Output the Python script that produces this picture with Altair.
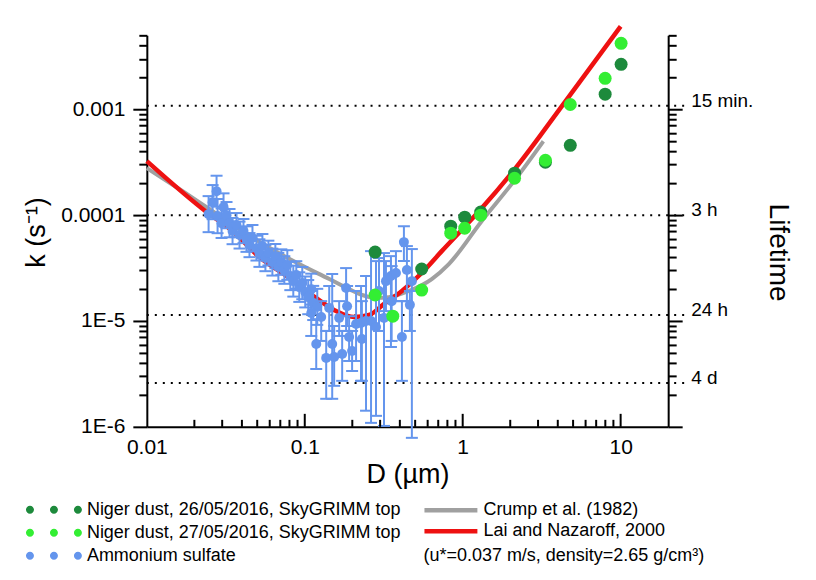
import altair as alt
import pandas as pd

W, H = 522, 392
FONT = "Liberation Sans, Arial, Helvetica, sans-serif"

S1 = "Niger dust, 26/05/2016, SkyGRIMM top"
S2 = "Niger dust, 27/05/2016, SkyGRIMM top"
S3 = "Ammonium sulfate"
L1 = "Crump et al. (1982)"
L2 = "Lai and Nazaroff, 2000"
NOTE = "(u*=0.037 m/s, density=2.65 g/cm³)"

# Ammonium sulfate, dense part (D in um, k in 1/s, error factor)
band_D = [0.02461, 0.02609, 0.02764, 0.02805, 0.02973, 0.03060, 0.03196, 0.03340, 0.03489, 0.03697,
          0.03863, 0.04093, 0.04274, 0.04466, 0.04665, 0.04943, 0.05163, 0.05394, 0.05634, 0.05885,
          0.06237, 0.06514, 0.06805, 0.07108, 0.07424, 0.07755, 0.08100, 0.08461, 0.08839, 0.09232,
          0.09643, 0.1007, 0.1052, 0.1099, 0.1131, 0.1200]
band_k = [1.022e-4, 1.327e-4, 1.684e-4, 9.79e-5, 8.40e-5, 1.190e-4, 1.0e-4, 8.40e-5, 7.07e-5, 8.05e-5,
          6.48e-5, 7.07e-5, 5.94e-5, 5.21e-5, 6.07e-5, 4.88e-5, 4.38e-5, 5.10e-5, 3.93e-5, 4.38e-5,
          3.60e-5, 4.10e-5, 3.23e-5, 3.60e-5, 3.03e-5, 3.38e-5, 2.66e-5, 2.38e-5, 2.72e-5, 2.09e-5,
          2.28e-5, 1.88e-5, 1.68e-5, 2.00e-5, 1.48e-5, 1.36e-5]
band_f = [1.48, 1.45, 1.40, 1.45, 1.38, 1.35, 1.33, 1.36, 1.33, 1.30,
          1.34, 1.30, 1.32, 1.30, 1.33, 1.31, 1.35, 1.30, 1.33, 1.31,
          1.34, 1.30, 1.36, 1.32, 1.35, 1.38, 1.36, 1.40, 1.35, 1.38,
          1.42, 1.40, 1.45, 1.40, 1.45, 1.48]

# Ammonium sulfate, scattered part (D, k, upper, lower)
tail_D = [0.1099, 0.1182, 0.1271, 0.1367, 0.1428, 0.1492, 0.1535, 0.1651, 0.1725, 0.1827,
          0.1854, 0.1909, 0.1994, 0.2113, 0.2272, 0.2300, 0.2443, 0.2628, 0.2825, 0.2951,
          0.3174, 0.3267, 0.3513, 0.3550, 0.3778, 0.4122, 0.4244, 0.4433, 0.4630, 0.4766]
tail_k = [1.19e-5, 6.07e-6, 1.09e-5, 4.48e-6, 1.33e-5, 6.07e-6, 4.57e-6, 1.07e-5, 4.88e-6, 2.05e-5,
          1.38e-5, 7.06e-6, 5.21e-6, 9.37e-6, 9.57e-6, 6.76e-6, 1.0e-5, 1.0e-5, 8.78e-6, 1.92e-5,
          1.07e-5, 2.38e-5, 2.66e-5, 1.54e-5, 2.84e-5, 7.06e-6, 5.56e-5, 3.03e-5, 1.42e-5, 2.38e-5]
tail_hi = [1.92e-5, 1.04e-5, 1.54e-5, 8.05e-6, 2.14e-5, 2.78e-5, 8.97e-6, 1.54e-5, 8.05e-6, 3.16e-5,
           2.14e-5, 1.11e-5, 8.05e-6, 1.92e-5, 2.14e-5, 1.54e-5, 2.66e-5, 4.57e-5, 3.68e-5, 3.93e-5,
           4.38e-5, 3.68e-5, 4.10e-5, 3.30e-5, 4.57e-5, 1.54e-5, 7.87e-5, 5.10e-5, 1.92e-5, 4.78e-5]
tail_lo = [7.22e-6, 3.52e-6, 6.48e-6, 1.84e-6, 8.05e-6, 1.84e-6, 2.44e-6, 7.22e-6, 2.72e-6, 8.05e-6,
           8.97e-6, 4.19e-6, 3.37e-6, 4.19e-6, 2.72e-6, 2.72e-6, 1.42e-6, 1.09e-6, 1.27e-6, 8.05e-6,
           1.02e-6, 1.24e-5, 5.68e-6, 6.48e-6, 1.54e-5, 2.72e-6, 3.68e-5, 1.54e-5, 8.05e-6, 7.87e-7]

ng26_D = [0.279, 0.55, 0.84, 1.03, 1.30, 2.13, 3.34, 4.80, 7.98, 10.07]
ng26_k = [4.48e-5, 3.10e-5, 7.87e-5, 9.57e-5, 1.07e-4, 2.49e-4, 3.16e-4, 4.57e-4, 1.39e-3, 2.66e-3]
ng27_D = [0.279, 0.361, 0.55, 0.84, 1.03, 1.30, 2.13, 3.34, 4.80, 7.98, 10.07]
ng27_k = [1.76e-5, 1.11e-5, 1.96e-5, 6.76e-5, 7.53e-5, 1.0e-4, 2.23e-4, 3.30e-4, 1.11e-3, 1.96e-3, 4.20e-3]

crump_D = [0.01, 0.01687, 0.0239, 0.0386, 0.0571, 0.0922, 0.143, 0.191, 0.231, 0.282, 0.341,
           0.456, 0.637, 0.817, 1.318, 2.16, 3.24]
crump_k = [2.78e-4, 1.68e-4, 1.19e-4, 7.38e-5, 5.10e-5, 3.45e-5, 2.49e-5, 2.0e-5, 1.76e-5, 1.65e-5,
           1.68e-5, 1.92e-5, 2.49e-5, 3.45e-5, 8.77e-5, 2.19e-4, 4.99e-4]
lai_D = [0.01, 0.0239, 0.0349, 0.0516, 0.0798, 0.118, 0.158, 0.205, 0.255, 0.318, 0.412, 0.55,
         0.737, 1.318, 2.16, 4.47, 10.0]
lai_k = [3.24e-4, 1.07e-4, 7.06e-5, 4.02e-5, 2.55e-5, 1.65e-5, 1.24e-5, 1.09e-5, 1.14e-5, 1.45e-5,
         1.92e-5, 2.84e-5, 4.57e-5, 1.16e-4, 2.78e-4, 1.19e-3, 6.07e-3]

life_k = [1.08e-3, 1.0e-4, 1.14e-5, 2.6e-6]
life_lab = ["15 min.", "3 h", "24 h", "4 d"]

x_major = [0.1, 1, 10]
x_minor = [0.02, 0.03, 0.04, 0.05, 0.06, 0.07, 0.08, 0.09,
           0.2, 0.3, 0.4, 0.5, 0.6, 0.7, 0.8, 0.9,
           2, 3, 4, 5, 6, 7, 8, 9]
y_ticks = [float(f"{m}e{e}") for e in range(-6, -2) for m in range(1, 10)]
y_ticks = [v for v in y_ticks if v <= 5e-3]

C_DG, C_LG, C_BL = "#1d8a3c", "#33ee33", "#6495ed"
C_GR, C_RD = "#a0a0a0", "#ee1111"

# ---- data frames
blue = pd.DataFrame({
    "D": band_D + tail_D,
    "k": band_k + tail_k,
    "hi": [k * f for k, f in zip(band_k, band_f)] + tail_hi,
    "lo": [k / f for k, f in zip(band_k, band_f)] + tail_lo,
    "series": S3,
})
dg = pd.DataFrame({"D": ng26_D, "k": ng26_k, "series": S1})
lg = pd.DataFrame({"D": ng27_D, "k": ng27_k, "series": S2})
crump = pd.DataFrame({"D": crump_D, "k": crump_k, "series": L1})
lai = pd.DataFrame({"D": lai_D, "k": lai_k, "series": L2})
life = pd.DataFrame({"k": life_k, "label": life_lab})
xmaj = pd.DataFrame({"D": x_major})
xmin = pd.DataFrame({"D": x_minor})

# ---- scales / axes
xs = alt.Scale(type="log", domain=[0.01, 20], nice=False)
ys = alt.Scale(type="log", domain=[1e-6, 5e-3], nice=False)

MAJ = "datum.value == 1e-6 || datum.value == 1e-5 || datum.value == 1e-4 || datum.value == 1e-3"
tick_cond = {"condition": {"test": MAJ, "value": 14}, "value": 8}

xaxis = alt.Axis(values=[0.01, 0.1, 1, 10],
                 labelExpr="datum.value == 0.01 ? '0.01' : datum.value == 0.1 ? '0.1' : datum.value == 1 ? '1' : '10'",
                 ticks=False, tickSize=0, labelPadding=10, labelFlush=False, labelOverlap=False,
                 labelFont=FONT, labelFontSize=21, labelColor="black",
                 domainColor="black", domainWidth=2, grid=False,
                 title="D (µm)", titleFont=FONT, titleFontSize=27, titleFontWeight="normal",
                 titleColor="black", titleX=W / 2, titleY=48, titleBaseline="middle", titleAlign="center")

yaxis_left = alt.Axis(orient="left", values=y_ticks,
                      labelExpr="datum.value == 1e-3 ? '0.001' : datum.value == 1e-4 ? '0.0001' : datum.value == 1e-5 ? '1E-5' : datum.value == 1e-6 ? '1E-6' : ''",
                      tickSize=tick_cond, tickWidth=2, tickColor="black",
                      domainColor="black", domainWidth=2, grid=False,
                      labelFont=FONT, labelFontSize=21, labelColor="black", labelPadding=8,
                      labelOverlap=False, labelFlush=False,
                      title="k (s⁻¹)", titleFont=FONT, titleFontSize=27, titleFontWeight="normal",
                      titleColor="black", titleX=-110, titleY=197, titleAngle=270,
                      titleBaseline="middle", titleAlign="center")

yaxis_right = alt.Axis(orient="right", values=y_ticks, labels=False,
                       tickSize=tick_cond, tickWidth=2, tickColor="black",
                       domainColor="black", domainWidth=2, grid=False,
                       title="Lifetime", titleFont=FONT, titleFontSize=28, titleFontWeight="normal",
                       titleColor="black", titleX=109, titleY=217, titleAngle=90,
                       titleBaseline="middle", titleAlign="center")

dots_path = ("M-11,0A1,1,0,1,0,-13,0A1,1,0,1,0,-11,0Z "
             "M-5,0A1,1,0,1,0,-7,0A1,1,0,1,0,-5,0Z "
             "M1,0A1,1,0,1,0,-1,0A1,1,0,1,0,1,0Z")

pt_legend = alt.Legend(orient="none", legendX=-78, legendY=466, title=None,
                       symbolType=dots_path, symbolSize=64, symbolStrokeWidth=0, symbolOpacity=1,
                       labelFont=FONT, labelFontSize=18, labelColor="black", labelOffset=0,
                       labelLimit=400, rowPadding=5, padding=0)
ln_legend = alt.Legend(orient="none", legendX=277, legendY=464, title=NOTE, titleOrient="bottom",
                       titleFont=FONT, titleFontSize=18, titleFontWeight="normal", titleColor="black",
                       titleAnchor="start", titleLimit=500, titlePadding=6,
                       symbolType="M-1.17,0H4.72", symbolSize=324, symbolStrokeWidth=4.5,
                       labelFont=FONT, labelFontSize=18, labelColor="black", labelOffset=37,
                       labelLimit=400, rowPadding=0, padding=0)

pt_color = alt.Color("series:N", scale=alt.Scale(domain=[S1, S2, S3], range=[C_DG, C_LG, C_BL]),
                     legend=pt_legend)
ln_stroke = alt.Stroke("series:N", scale=alt.Scale(domain=[L1, L2], range=[C_GR, C_RD]),
                       legend=ln_legend)

X = alt.X("D:Q", scale=xs, axis=xaxis)


def Y(field, axis=None):
    return alt.Y(f"{field}:Q", scale=ys, axis=axis)


life_rules = alt.Chart(life).mark_rule(color="black", strokeDash=[2, 6], strokeWidth=2).encode(
    x=alt.value(0), x2=alt.value(W + 22), y=Y("k", yaxis_right))

gray_line = alt.Chart(crump).mark_line(strokeWidth=4, interpolate="monotone").encode(
    x=X, y=Y("k"), stroke=ln_stroke)
red_line = alt.Chart(lai).mark_line(strokeWidth=4.5, interpolate="monotone").encode(
    x=X, y=Y("k", yaxis_left), stroke=ln_stroke)

err = alt.Chart(blue).mark_rule(color=C_BL, strokeWidth=2).encode(x=X, y=Y("lo"), y2="hi:Q")
cap_hi = alt.Chart(blue).mark_tick(color=C_BL, orient="horizontal", size=12, thickness=2, opacity=1).encode(
    x=X, y=Y("hi"))
cap_lo = alt.Chart(blue).mark_tick(color=C_BL, orient="horizontal", size=12, thickness=2, opacity=1).encode(
    x=X, y=Y("lo"))
blue_pts = alt.Chart(blue).mark_circle(size=100, opacity=1).encode(x=X, y=Y("k"), color=pt_color)
dg_pts = alt.Chart(dg).mark_circle(size=169, opacity=1).encode(x=X, y=Y("k"), color=pt_color)
lg_pts = alt.Chart(lg).mark_circle(size=169, opacity=1).encode(x=X, y=Y("k"), color=pt_color)

life_text = alt.Chart(life).mark_text(align="left", baseline="alphabetic", font=FONT, fontSize=19,
                                      color="black", dy=1).encode(
    x=alt.value(W + 23), y=Y("k"), text="label:N")

xt_major = alt.Chart(xmaj).mark_rule(color="black", strokeWidth=2).encode(
    x=X, y=alt.value(H), y2=alt.value(H - 13))
xt_minor = alt.Chart(xmin).mark_rule(color="black", strokeWidth=2).encode(
    x=X, y=alt.value(H), y2=alt.value(H - 7))

chart = alt.layer(
    life_rules, gray_line, red_line, err, cap_hi, cap_lo, blue_pts, dg_pts, lg_pts,
    life_text, xt_major, xt_minor
).resolve_scale(y="independent").properties(
    width=W, height=H,
    autosize=alt.AutoSizeParams(type="none"),
    padding={"left": 139, "top": 27, "right": 140, "bottom": 142},
).configure_view(stroke=None)

chart.save("out.html", embed_options={"renderer": "svg", "actions": False})
